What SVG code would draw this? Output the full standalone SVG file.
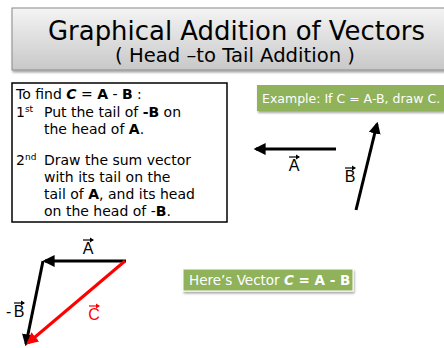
<svg xmlns="http://www.w3.org/2000/svg" width="444" height="348" viewBox="0 0 444 348">
<defs>
<linearGradient id="tg" x1="0" y1="0" x2="0" y2="1">
<stop offset="0" stop-color="#f4f4f4"/>
<stop offset="1" stop-color="#c8c8c8"/>
</linearGradient>
<marker id="ah" viewBox="0 0 10 10" refX="8" refY="5" markerWidth="4" markerHeight="4" orient="auto" markerUnits="strokeWidth">
<path d="M0,0 L10,5 L0,10 z" fill="#000"/>
</marker>
<marker id="ahr" viewBox="0 0 10 10" refX="8" refY="5" markerWidth="4" markerHeight="4" orient="auto" markerUnits="strokeWidth">
<path d="M0,0 L10,5 L0,10 z" fill="#ff0000"/>
</marker>
<filter id="sh" x="-5%" y="-20%" width="110%" height="150%">
<feDropShadow dx="1" dy="2" stdDeviation="1.2" flood-color="#000" flood-opacity="0.35"/>
</filter>
</defs>
<style>
.comic{font-family:"DejaVu Sans","Liberation Sans",sans-serif;}
.lbl{font-family:"Liberation Sans",Arial,sans-serif;font-size:16px;}
.body{font-size:14px;fill:#000;}
.vec{stroke:#000;stroke-width:3;fill:none;}
.small{stroke:#000;stroke-width:1.2;fill:none;}
.gtxt{fill:#fff;font-size:13.5px;}
</style>

<g id="title">
<rect x="12" y="8" width="440" height="62" fill="url(#tg)" stroke="#8a8a8a" stroke-width="1" filter="url(#sh)"/>
<text class="comic" x="48" y="40" font-size="27" textLength="377" lengthAdjust="spacingAndGlyphs" fill="#000">Graphical Addition of Vectors</text>
<text class="comic" x="115" y="62" font-size="19" textLength="240" lengthAdjust="spacingAndGlyphs" fill="#000">( Head –to Tail Addition )</text>
</g>

<g id="instructions">
<rect x="12" y="83" width="215" height="139" fill="#fff" stroke="#000" stroke-width="1.5"/>
<text class="comic body" x="16" y="99">To find <tspan font-weight="bold" font-style="italic">C</tspan> = <tspan font-weight="bold">A</tspan> - <tspan font-weight="bold">B</tspan> :</text>
<text class="comic body" x="16" y="117">1<tspan font-size="9" baseline-shift="super">st</tspan><tspan x="44">Put the tail of </tspan><tspan font-weight="bold">-B</tspan> on</text>
<text class="comic body" x="44" y="134">the head of <tspan font-weight="bold">A</tspan>.</text>
<text class="comic body" x="16" y="165">2<tspan font-size="9" baseline-shift="super">nd</tspan><tspan x="44">Draw the sum vector</tspan></text>
<text class="comic body" x="44" y="182">with its tail on the</text>
<text class="comic body" x="44" y="199">tail of <tspan font-weight="bold">A</tspan>, and its head</text>
<text class="comic body" x="44" y="216">on the head of -<tspan font-weight="bold">B</tspan>.</text>
</g>

<g id="example">
<rect x="257" y="85" width="187" height="26" fill="#8fb25a" filter="url(#sh)"/>
<text class="comic" x="262" y="103" font-size="12.5" fill="#fff">Example: If C = A-B, draw C.</text>
</g>

<g id="result-label">
<rect x="183" y="269" width="170" height="22" fill="#8fb25a" stroke="#fff" stroke-width="1" filter="url(#sh)"/>
<text class="comic gtxt" x="189" y="285">Here’s Vector  <tspan font-weight="bold" font-style="italic">C</tspan><tspan font-weight="bold"> = A - B</tspan></text>
</g>

<g id="connectors">
<line class="vec" x1="336" y1="149" x2="256" y2="149" marker-end="url(#ah)"/>
<line class="vec" x1="356" y1="210" x2="377" y2="124" marker-end="url(#ah)"/>
<line class="vec" x1="126" y1="261" x2="45" y2="261" marker-end="url(#ah)"/>
<line class="vec" x1="43" y1="261" x2="26" y2="344" marker-end="url(#ah)"/>
<line x1="125" y1="261" x2="28" y2="343" stroke="#ff0000" stroke-width="3" marker-end="url(#ahr)"/>
</g>

<g id="label-A-top">
<text class="lbl" x="294" y="171" text-anchor="middle">A</text>
<path class="small" d="M289,157 L299,157"/><path d="M296,154.5 L300,157 L296,159.5 z" fill="#000"/>
</g>
<g id="label-B-top">
<text class="lbl" x="350" y="182" text-anchor="middle">B</text>
<path class="small" d="M345,168 L355,168"/><path d="M352,165.5 L356,168 L352,170.5 z" fill="#000"/>
</g>
<g id="label-A-bottom">
<text class="lbl" x="88" y="254" text-anchor="middle">A</text>
<path class="small" d="M83,240 L93,240"/><path d="M90,237.5 L94,240 L90,242.5 z" fill="#000"/>
</g>
<g id="label-negB">
<text class="lbl" x="6" y="317">-</text>
<text class="lbl" x="19" y="317" text-anchor="middle">B</text>
<path class="small" d="M14,303 L24,303"/><path d="M21,300.5 L25,303 L21,305.5 z" fill="#000"/>
</g>
<g id="label-C">
<text class="lbl" x="94" y="320" text-anchor="middle" fill="#ff0000">C</text>
<path d="M89,306 L99,306" stroke="#ff0000" stroke-width="1.2"/><path d="M96,303.5 L100,306 L96,308.5 z" fill="#ff0000"/>
</g>
</svg>
